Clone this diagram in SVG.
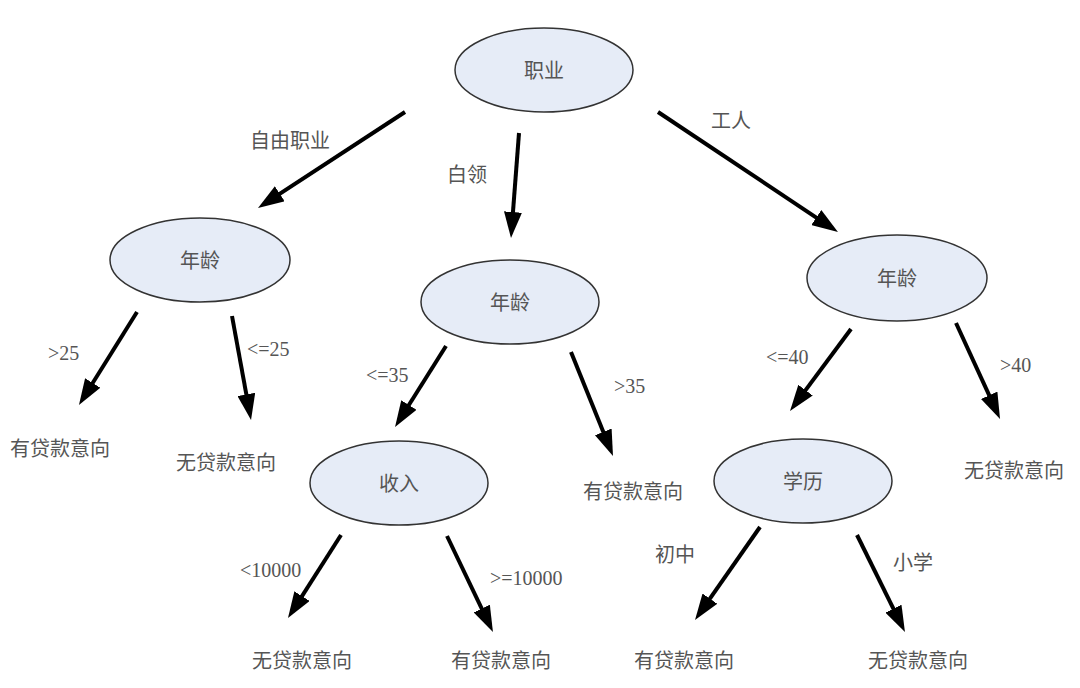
<svg xmlns="http://www.w3.org/2000/svg" width="1080" height="688" viewBox="0 0 1080 688">
<defs>
<marker id="ah" markerUnits="userSpaceOnUse" markerWidth="26" markerHeight="18" refX="18" refY="9" orient="auto">
<path d="M0,0 L26,9 L0,18 z" fill="#000"/>
</marker>
<style>
.n ellipse{fill:#e6ecf7;stroke:#333;stroke-width:1.5}
text{font-family:"Liberation Serif","Noto Sans CJK SC",serif;font-size:20px;fill:#555}
.c{text-anchor:middle}
#edges line{stroke:#000;stroke-width:4;marker-end:url(#ah)}
</style>
</defs>
<rect width="1080" height="688" fill="#fff"/>
<g id="edges">
<line x1="405" y1="112" x2="264.7" y2="203.6"/>
<line x1="519" y1="133" x2="511.6" y2="230"/>
<line x1="658" y1="112" x2="831.3" y2="227.6"/>
<line x1="137" y1="312" x2="83.2" y2="398.2"/>
<line x1="232" y1="316" x2="249.6" y2="412.1"/>
<line x1="446" y1="346" x2="399.3" y2="420.2"/>
<line x1="571" y1="352" x2="610" y2="448.6"/>
<line x1="851" y1="329" x2="794.8" y2="404.6"/>
<line x1="956" y1="323" x2="996.7" y2="411.7"/>
<line x1="341" y1="535" x2="292.3" y2="611.3"/>
<line x1="447" y1="536" x2="489.5" y2="624.8"/>
<line x1="760" y1="527" x2="699.6" y2="613.4"/>
<line x1="857" y1="535" x2="901.4" y2="624.8"/>
</g>
<g id="edge-labels">
<text x="250" y="148">自由职业</text>
<text x="447" y="182">白领</text>
<text x="711" y="128">工人</text>
<text x="48" y="360">&gt;25</text>
<text x="247" y="356">&lt;=25</text>
<text x="366" y="382">&lt;=35</text>
<text x="614" y="393">&gt;35</text>
<text x="766" y="364">&lt;=40</text>
<text x="1000" y="372">&gt;40</text>
<text x="240" y="577">&lt;10000</text>
<text x="490" y="585">&gt;=10000</text>
<text x="655" y="562">初中</text>
<text x="893" y="570">小学</text>
</g>
<g id="n-root" class="n"><ellipse cx="544" cy="70" rx="89" ry="42"/><text class="c" x="544" y="78">职业</text></g>
<g id="n-age1" class="n"><ellipse cx="200" cy="260" rx="90" ry="42"/><text class="c" x="200" y="268">年龄</text></g>
<g id="n-age2" class="n"><ellipse cx="510" cy="302" rx="89" ry="42"/><text class="c" x="510" y="310">年龄</text></g>
<g id="n-age3" class="n"><ellipse cx="897" cy="278" rx="90" ry="43"/><text class="c" x="897" y="286">年龄</text></g>
<g id="n-income" class="n"><ellipse cx="399" cy="483" rx="89" ry="42"/><text class="c" x="399" y="491">收入</text></g>
<g id="n-edu" class="n"><ellipse cx="803" cy="481" rx="89" ry="42"/><text class="c" x="803" y="489">学历</text></g>
<g id="leaf1"><text class="c" x="60" y="456">有贷款意向</text></g>
<g id="leaf2"><text class="c" x="226" y="470">无贷款意向</text></g>
<g id="leaf3"><text class="c" x="633" y="499">有贷款意向</text></g>
<g id="leaf4"><text class="c" x="1014" y="478">无贷款意向</text></g>
<g id="leaf5"><text class="c" x="302" y="668">无贷款意向</text></g>
<g id="leaf6"><text class="c" x="501" y="668">有贷款意向</text></g>
<g id="leaf7"><text class="c" x="684" y="668">有贷款意向</text></g>
<g id="leaf8"><text class="c" x="918" y="668">无贷款意向</text></g>
</svg>
